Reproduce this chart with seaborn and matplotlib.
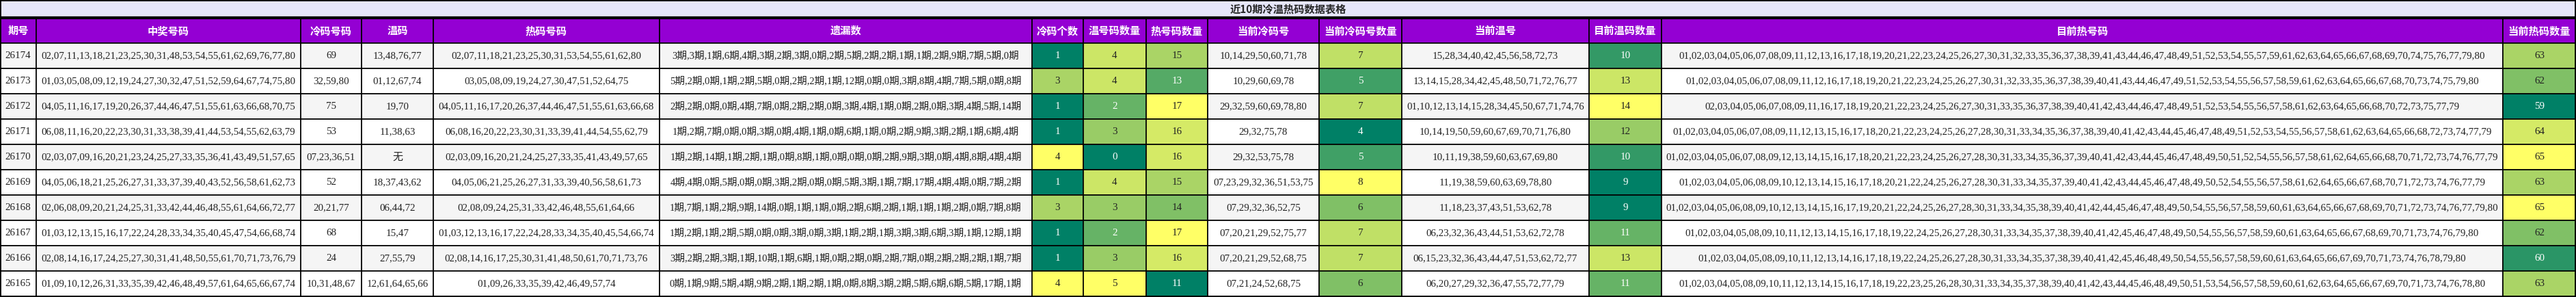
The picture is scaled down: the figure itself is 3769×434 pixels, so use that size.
import matplotlib
matplotlib.use("Agg")
import matplotlib.pyplot as plt
import seaborn as sns
from matplotlib.patches import Rectangle
from matplotlib.colors import Normalize

# Data
title = '近10期冷温热码数据表格'
headers = ['期号', '中奖号码', '冷码号码', '温码', '热码号码', '遗漏数', '冷码个数', '温号码数量', '热号码数量',
           '当前冷码号', '当前冷码号数量', '当前温号', '目前温码数量', '目前热号码', '当前热码数量']

issues = ['26174', '26173', '26172', '26171', '26170', '26169', '26168', '26167', '26166', '26165']

winning = [
    '02,07,11,13,18,21,23,25,30,31,48,53,54,55,61,62,69,76,77,80',
    '01,03,05,08,09,12,19,24,27,30,32,47,51,52,59,64,67,74,75,80',
    '04,05,11,16,17,19,20,26,37,44,46,47,51,55,61,63,66,68,70,75',
    '06,08,11,16,20,22,23,30,31,33,38,39,41,44,53,54,55,62,63,79',
    '02,03,07,09,16,20,21,23,24,25,27,33,35,36,41,43,49,51,57,65',
    '04,05,06,18,21,25,26,27,31,33,37,39,40,43,52,56,58,61,62,73',
    '02,06,08,09,20,21,24,25,31,33,42,44,46,48,55,61,64,66,72,77',
    '01,03,12,13,15,16,17,22,24,28,33,34,35,40,45,47,54,66,68,74',
    '02,08,14,16,17,24,25,27,30,31,41,48,50,55,61,70,71,73,76,79',
    '01,09,10,12,26,31,33,35,39,42,46,48,49,57,61,64,65,66,67,74',
]
cold = ['69', '32,59,80', '75', '53', '07,23,36,51', '52', '20,21,77', '68', '24', '10,31,48,67']
warm = ['13,48,76,77', '01,12,67,74', '19,70', '11,38,63', '无', '18,37,43,62', '06,44,72', '15,47',
        '27,55,79', '12,61,64,65,66']
hot = [
    '02,07,11,18,21,23,25,30,31,53,54,55,61,62,80',
    '03,05,08,09,19,24,27,30,47,51,52,64,75',
    '04,05,11,16,17,20,26,37,44,46,47,51,55,61,63,66,68',
    '06,08,16,20,22,23,30,31,33,39,41,44,54,55,62,79',
    '02,03,09,16,20,21,24,25,27,33,35,41,43,49,57,65',
    '04,05,06,21,25,26,27,31,33,39,40,56,58,61,73',
    '02,08,09,24,25,31,33,42,46,48,55,61,64,66',
    '01,03,12,13,16,17,22,24,28,33,34,35,40,45,54,66,74',
    '02,08,14,16,17,25,30,31,41,48,50,61,70,71,73,76',
    '01,09,26,33,35,39,42,46,49,57,74',
]
missing = [
    '3期,3期,1期,6期,4期,3期,2期,3期,0期,2期,5期,2期,2期,1期,1期,2期,9期,7期,5期,0期',
    '5期,2期,0期,1期,2期,5期,0期,2期,2期,1期,12期,0期,0期,3期,8期,4期,7期,5期,0期,8期',
    '2期,2期,0期,0期,4期,7期,0期,2期,2期,0期,3期,4期,1期,0期,2期,0期,3期,4期,5期,14期',
    '1期,2期,7期,0期,0期,3期,0期,4期,1期,0期,6期,1期,0期,2期,9期,3期,2期,1期,6期,4期',
    '1期,2期,14期,1期,2期,1期,0期,8期,1期,0期,0期,0期,2期,9期,3期,0期,4期,8期,4期,4期',
    '4期,4期,0期,5期,0期,0期,3期,2期,0期,0期,5期,3期,1期,7期,17期,4期,4期,0期,7期,2期',
    '1期,7期,1期,2期,9期,14期,0期,1期,1期,0期,2期,6期,2期,1期,1期,1期,2期,0期,7期,8期',
    '1期,2期,1期,2期,5期,0期,0期,3期,0期,3期,1期,2期,1期,3期,3期,6期,3期,1期,12期,1期',
    '3期,2期,2期,3期,1期,10期,1期,6期,1期,0期,2期,0期,2期,7期,0期,2期,2期,2期,1期,7期',
    '0期,1期,9期,5期,4期,9期,2期,1期,2期,1期,0期,8期,3期,2期,5期,6期,6期,5期,17期,1期',
]
cold_count = [1, 3, 1, 1, 4, 1, 3, 1, 1, 4]
warm_count = [4, 4, 2, 3, 0, 4, 3, 2, 3, 5]
hot_count = [15, 13, 17, 16, 16, 15, 14, 17, 16, 11]
cur_cold = ['10,14,29,50,60,71,78', '10,29,60,69,78', '29,32,59,60,69,78,80', '29,32,75,78',
            '29,32,53,75,78', '07,23,29,32,36,51,53,75', '07,29,32,36,52,75', '07,20,21,29,52,75,77',
            '07,20,21,29,52,68,75', '07,21,24,52,68,75']
cur_cold_count = [7, 5, 7, 4, 5, 8, 6, 7, 7, 6]
cur_warm = ['15,28,34,40,42,45,56,58,72,73', '13,14,15,28,34,42,45,48,50,71,72,76,77',
            '01,10,12,13,14,15,28,34,45,50,67,71,74,76', '10,14,19,50,59,60,67,69,70,71,76,80',
            '10,11,19,38,59,60,63,67,69,80', '11,19,38,59,60,63,69,78,80', '11,18,23,37,43,51,53,62,78',
            '06,23,32,36,43,44,51,53,62,72,78', '06,15,23,32,36,43,44,47,51,53,62,72,77',
            '06,20,27,29,32,36,47,55,72,77,79']
cur_warm_count = [10, 13, 14, 12, 10, 9, 9, 11, 13, 11]
cur_hot = [
    '01,02,03,04,05,06,07,08,09,11,12,13,16,17,18,19,20,21,22,23,24,25,26,27,30,31,32,33,35,36,37,38,39,41,43,44,46,47,48,49,51,52,53,54,55,57,59,61,62,63,64,65,66,67,68,69,70,74,75,76,77,79,80',
    '01,02,03,04,05,06,07,08,09,11,12,16,17,18,19,20,21,22,23,24,25,26,27,30,31,32,33,35,36,37,38,39,40,41,43,44,46,47,49,51,52,53,54,55,56,57,58,59,61,62,63,64,65,66,67,68,70,73,74,75,79,80',
    '02,03,04,05,06,07,08,09,11,16,17,18,19,20,21,22,23,24,25,26,27,30,31,33,35,36,37,38,39,40,41,42,43,44,46,47,48,49,51,52,53,54,55,56,57,58,61,62,63,64,65,66,68,70,72,73,75,77,79',
    '01,02,03,04,05,06,07,08,09,11,12,13,15,16,17,18,20,21,22,23,24,25,26,27,28,30,31,33,34,35,36,37,38,39,40,41,42,43,44,45,46,47,48,49,51,52,53,54,55,56,57,58,61,62,63,64,65,66,68,72,73,74,77,79',
    '01,02,03,04,05,06,07,08,09,12,13,14,15,16,17,18,20,21,22,23,24,25,26,27,28,30,31,33,34,35,36,37,39,40,41,42,43,44,45,46,47,48,49,50,51,52,54,55,56,57,58,61,62,64,65,66,68,70,71,72,73,74,76,77,79',
    '01,02,03,04,05,06,08,09,10,12,13,14,15,16,17,18,20,21,22,24,25,26,27,28,30,31,33,34,35,37,39,40,41,42,43,44,45,46,47,48,49,50,52,54,55,56,57,58,61,62,64,65,66,67,68,70,71,72,73,74,76,77,79',
    '01,02,03,04,05,06,08,09,10,12,13,14,15,16,17,19,20,21,22,24,25,26,27,28,30,31,33,34,35,38,39,40,41,42,44,45,46,47,48,49,50,54,55,56,57,58,59,60,61,63,64,65,66,67,68,69,70,71,72,73,74,76,77,79,80',
    '01,02,03,04,05,08,09,10,11,12,13,14,15,16,17,18,19,22,24,25,26,27,28,30,31,33,34,35,37,38,39,40,41,42,45,46,47,48,49,50,54,55,56,57,58,59,60,61,63,64,65,66,67,68,69,70,71,73,74,76,79,80',
    '01,02,03,04,05,08,09,10,11,12,13,14,16,17,18,19,22,24,25,26,27,28,30,31,33,34,35,37,38,39,40,41,42,45,46,48,49,50,54,55,56,57,58,59,60,61,63,64,65,66,67,69,70,71,73,74,76,78,79,80',
    '01,02,03,04,05,08,09,10,11,12,13,14,15,16,17,18,19,22,23,25,26,28,30,31,33,34,35,37,38,39,40,41,42,43,44,45,46,48,49,50,51,53,54,56,57,58,59,60,61,62,63,64,65,66,67,69,70,71,73,74,76,78,80',
]
cur_hot_count = [63, 62, 59, 64, 65, 63, 65, 62, 60, 63]

columns = [issues, winning, cold, warm, hot, missing, cold_count, warm_count, hot_count,
           cur_cold, cur_cold_count, cur_warm, cur_warm_count, cur_hot, cur_hot_count]
colored = {6, 7, 8, 10, 12, 14}

# layout in pixels
edges = [0, 53, 440, 529, 634, 965, 1510, 1585, 1677, 1767, 1930, 2051, 2325, 2431, 3662, 3769]
W, H = 3769, 434
title_h, head_top, row_h = 25, 27, 37
body_top = 63

sns.set_style("white")
plt.rcParams['font.family'] = ['Liberation Serif', 'Noto Sans CJK SC']
cmap = sns.color_palette("summer", as_cmap=True)
head_font = ['Noto Sans CJK SC', 'DejaVu Sans']

fig = plt.figure(figsize=(W / 100, H / 100), dpi=100)
ax = fig.add_axes([0, 0, 1, 1])
ax.set_xlim(0, W)
ax.set_ylim(H, 0)
ax.axis('off')

# title band
ax.add_patch(Rectangle((0, 0), W, title_h, facecolor='#e6e6fa', edgecolor='black', lw=1.5))
ax.plot([0, W], [26, 26], color='black', lw=3)
ax.text(W / 2, title_h / 2 + 1, title, ha='center', va='center', fontsize=11, fontweight='bold',
        family=head_font)

# header
for j, h in enumerate(headers):
    x0, x1 = edges[j], edges[j + 1]
    ax.add_patch(Rectangle((x0, head_top), x1 - x0, body_top - head_top, facecolor='#9400d3',
                           edgecolor='black', lw=1.2))
    ax.text((x0 + x1) / 2, (head_top + body_top) / 2, h, ha='center', va='center', color='white',
            fontsize=11, fontweight='bold', family=head_font)

# body
for j, col in enumerate(columns):
    x0, x1 = edges[j], edges[j + 1]
    norm = Normalize(min(col), max(col)) if j in colored else None
    for i, val in enumerate(col):
        y0 = body_top + i * row_h
        bg = '#f5f5f5' if i % 2 == 0 else 'white'
        fg = '#222222'
        if norm is not None:
            t = norm(val)
            bg = cmap(t)
            fg = 'white' if t < 0.5 else '#222222'
        ax.add_patch(Rectangle((x0, y0), x1 - x0, row_h, facecolor=bg, edgecolor='black', lw=1.2))
        fs = 10.5 if j == 5 else 10.8
        ax.text((x0 + x1) / 2, y0 + row_h / 2, str(val), ha='center', va='center', color=fg, fontsize=fs)

ax.add_patch(Rectangle((0, 0), W - 1, H - 1, fill=False, edgecolor='black', lw=2))

fig.savefig('out.png', dpi=100)
